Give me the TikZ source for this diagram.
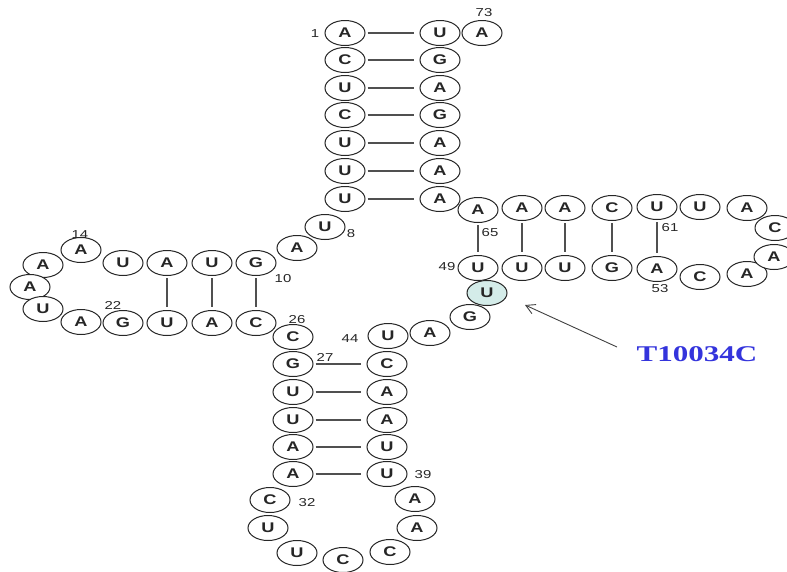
\documentclass[tikz,border=0pt]{standalone}
\usepackage{fontspec}
\usepackage{graphicx}
\setmainfont{Liberation Sans}
\newfontfamily\serifb{Liberation Serif}
\usetikzlibrary{shapes.geometric,arrows.meta}
\definecolor{hl}{RGB}{212,236,233}
\definecolor{labblue}{RGB}{52,52,220}
\definecolor{pairgray}{RGB}{80,80,80}
\newcommand{\sx}[1]{\scalebox{1.3}[1]{#1}}
\newcommand{\sn}[1]{\scalebox{1.3}[1]{#1}}
\tikzset{
  nt/.style={ellipse,draw=black!85,line width=1pt,minimum width=40pt,minimum height=25pt,inner sep=0pt,fill=white,font=\bfseries\fontsize{14}{14}\selectfont,text=black!85},
  lbl/.style={inner sep=0pt,font=\fontsize{11.5}{11.5}\selectfont,text=black!85},
  pairline/.style={draw=pairgray,line width=1.1pt,shorten <=2pt,shorten >=3pt},
}
\begin{document}
\begin{tikzpicture}[x=1pt,y=-1pt]
\useasboundingbox (0,0) rectangle (787,571);
\foreach \n/\l/\x/\y in {
 1/A/345/33, 2/C/345/60, 3/U/345/88, 4/C/345/115, 5/U/345/143, 6/U/345/171, 7/U/345/199,
 8/U/325/227, 9/A/297/248, 10/G/256/263, 11/U/212/263, 12/A/167/263, 13/U/123/263,
 14/A/81/250, 15/A/43/265, 16/A/30/287, 17/U/43/309, 18/A/81/322,
 19/G/123/323, 20/U/167/323, 21/A/212/323, 22/C/256/323,
 23/C/293/337, 24/G/293/364, 25/U/293/392, 26/U/293/420, 27/A/293/447, 28/A/293/474,
 29/C/270/500, 30/U/268/528, 31/U/297/553, 32/C/343/560, 33/C/390/552, 34/A/417/528, 35/A/415/499,
 36/U/387/474, 37/U/387/447, 38/A/387/420, 39/A/387/392, 40/C/387/364,
 41/U/388/336, 42/A/430/333, 43/G/470/317,
 45/U/478/268, 46/U/522/268, 47/U/565/268, 48/G/612/268, 49/A/657/269,
 50/C/700/277, 51/A/747/274, 52/A/774/257, 53/C/775/228,
 54/A/747/208, 55/U/700/207, 56/U/657/207, 57/C/612/208, 58/A/565/208, 59/A/522/208, 60/A/478/210,
 61/A/440/199, 62/A/440/171, 63/A/440/143, 64/G/440/115, 65/A/440/88, 66/G/440/60, 67/U/440/33,
 68/A/482/33}
  \node[nt] (n\n) at (\x,\y) {\sx{\l}};
\node[nt,fill=hl] (n44) at (487,293) {\sx{U}};
% base pairs
\foreach \a/\b in {1/67,2/66,3/65,4/64,5/63,6/62,7/61,
  24/40,25/39,26/38,27/37,28/36}
  \draw[pairline,shorten >=6pt] (n\a) -- (n\b);
\foreach \a/\b in {12/20,11/21,10/22,60/45,59/46,58/47,57/48,56/49}
  \draw[pairline] (n\a) -- (n\b);
% numbers
\node[lbl] (l1) at (315,34) {\sn{1}};
\node[lbl] (l73) at (484,13) {\sn{73}};
\node[lbl] (l8) at (351,234) {\sn{8}};
\node[lbl] (l10) at (283,279) {\sn{10}};
\node[lbl] (l14) at (80,235) {\sn{14}};
\node[lbl] (l22) at (113,305) {\sn{22}};
\node[lbl] (l26) at (297,320) {\sn{26}};
\node[lbl] (l27) at (325,357) {\sn{27}};
\node[lbl] (l44) at (350,339) {\sn{44}};
\node[lbl] (l39) at (423,475) {\sn{39}};
\node[lbl] (l32) at (307,503) {\sn{32}};
\node[lbl] (l65) at (490,233) {\sn{65}};
\node[lbl] (l61) at (670,228) {\sn{61}};
\node[lbl] (l53) at (660,289) {\sn{53}};
\node[lbl] (l49) at (447,267) {\sn{49}};
% mutation label
\node[inner sep=0pt,text=labblue,font=\serifb\bfseries\fontsize{22.5}{22.5}\selectfont] (mut) at (697,354) {\scalebox{1.38}[1]{T10034C}};
\coordinate (tail) at (617,347);
\coordinate (tip) at (525,305);
\draw[draw=black!75,line width=0.9pt,-{Straight Barb[length=9pt,width=10pt]}] (tail) -- (tip);
\end{tikzpicture}
\end{document}
